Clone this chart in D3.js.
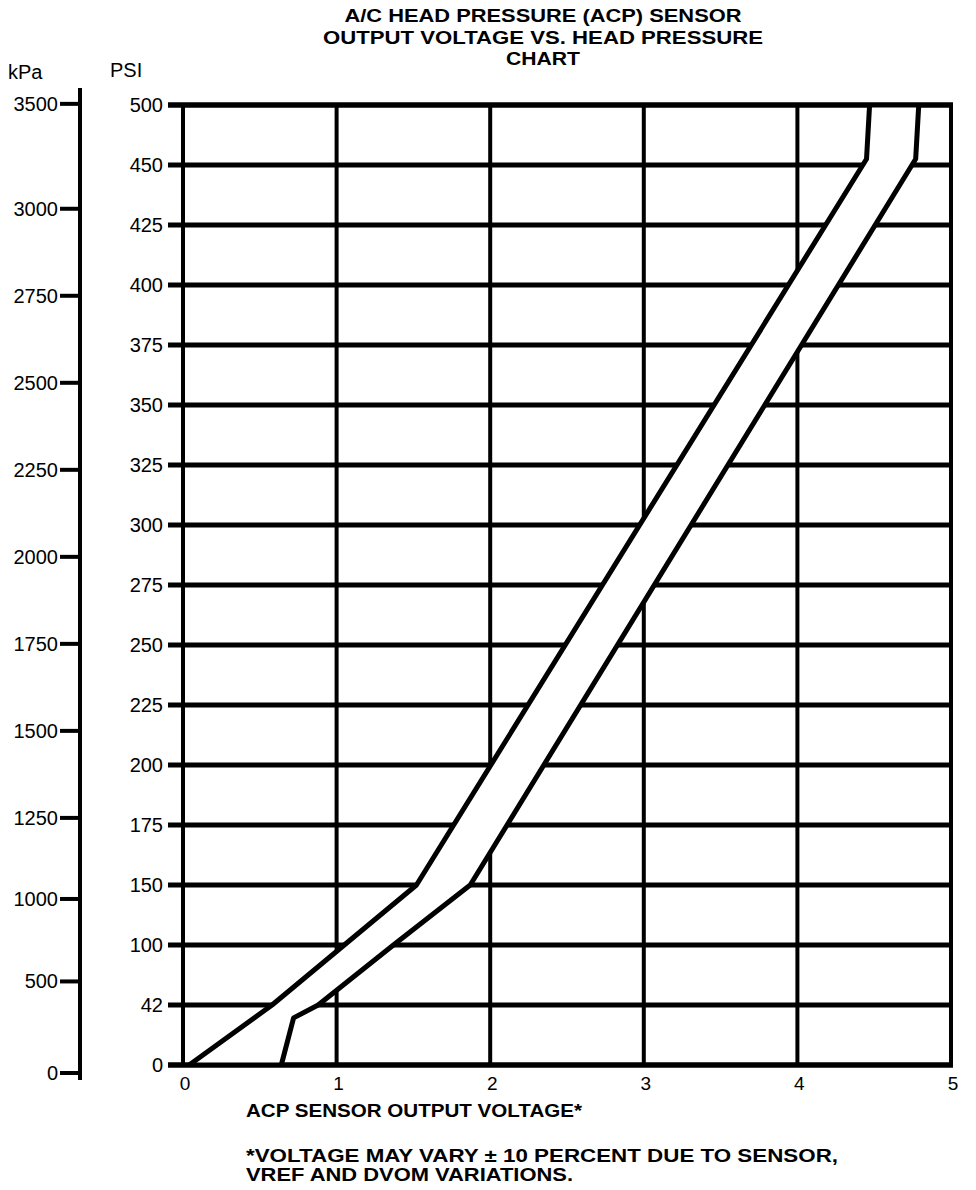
<!DOCTYPE html>
<html>
<head>
<meta charset="utf-8">
<script src="https://cdn.jsdelivr.net/npm/d3@7"></script>
<style>
  html, body { margin: 0; padding: 0; background: #fff; }
  svg { display: block; }
</style>
</head>
<body>
<svg id="chart" width="976" height="1190"></svg>
<script>
// ---------------- DATA ----------------
const titleLines = ["A/C HEAD PRESSURE (ACP) SENSOR", "OUTPUT VOLTAGE VS. HEAD PRESSURE", "CHART"];
const psiTicks = [0, 42, 100, 150, 175, 200, 225, 250, 275, 300, 325, 350, 375, 400, 425, 450, 500];
const kpaTicks = [0, 500, 1000, 1250, 1500, 1750, 2000, 2250, 2500, 2750, 3000, 3500];
const voltTicks = [0, 1, 2, 3, 4, 5];
// Upper (left) boundary of the band: voltage vs PSI
const upperVolts = [0.04, 0.58, 1.05, 1.52, 4.45, 4.47];
const upperPsi   = [0,    42,   100,  150,  455,  500];
// Lower (right) boundary of the band
const lowerVolts = [0.64, 0.72, 0.88, 1.37, 1.87, 4.77, 4.79];
const lowerPsi   = [0,    33,   42,   100,  150,  455,  500];
const xLabel = "ACP SENSOR OUTPUT VOLTAGE*";
const footnote = ["*VOLTAGE MAY VARY \u00B1 10 PERCENT DUE TO SENSOR,", "VREF AND DVOM VARIATIONS."];
const KPA_PER_PSI = 6.895;

// ---------------- LAYOUT ----------------
const svg = d3.select("#chart");
const plotLeft = 183, plotRight = 951, plotTop = 105, plotBottom = 1065;
const gridLeft = 168;
const kpaAxisX = 80, kpaShift = 8;
const ink = "#000";
const font = "'Liberation Sans', Arial, Helvetica, sans-serif";

const x = d3.scaleLinear().domain([0, 5]).range([plotLeft, plotRight]);
const step = (plotBottom - plotTop) / (psiTicks.length - 1);
const y = d3.scaleLinear().domain(psiTicks).range(psiTicks.map((d, i) => plotBottom - i * step));
const yK = d => y(d / KPA_PER_PSI) + kpaShift;

// helper: bold heading text stretched to reference width
function heading(sel, txt, xx, yy, len, anchor) {
  return sel.append("text").attr("x", xx).attr("y", yy)
    .attr("text-anchor", anchor || "start")
    .attr("font-family", font).attr("font-weight", "bold").attr("font-size", 19)
    .attr("textLength", len).attr("lengthAdjust", "spacingAndGlyphs")
    .attr("fill", ink).text(txt);
}

// ---------------- TITLE ----------------
const titleWidths = [397, 440, 74];
titleLines.forEach((t, i) => heading(svg, t, 543, 22 + i * 21.5, titleWidths[i], "middle"));

// Unit labels
svg.append("text").attr("x", 8).attr("y", 79).attr("font-family", font)
  .attr("font-size", 20).attr("fill", ink).text("kPa");
svg.append("text").attr("x", 110).attr("y", 77).attr("font-family", font)
  .attr("font-size", 20).attr("fill", ink).text("PSI");

// ---------------- kPa AXIS ----------------
const kAxis = svg.append("g");
kAxis.append("line").attr("x1", kpaAxisX).attr("x2", kpaAxisX)
  .attr("y1", 88).attr("y2", 1080).attr("stroke", ink).attr("stroke-width", 4);
kAxis.selectAll("line.tick").data(kpaTicks).join("line").attr("class", "tick")
  .attr("x1", 60).attr("x2", kpaAxisX).attr("y1", d => yK(d)).attr("y2", d => yK(d))
  .attr("stroke", ink).attr("stroke-width", 4);
kAxis.selectAll("text").data(kpaTicks).join("text")
  .attr("x", 58).attr("y", d => yK(d) + 7).attr("text-anchor", "end")
  .attr("font-family", font).attr("font-size", 20).attr("fill", ink).text(d => d);

// ---------------- GRID ----------------
const grid = svg.append("g");
grid.selectAll("line.h").data(psiTicks).join("line").attr("class", "h")
  .attr("x1", gridLeft).attr("x2", plotRight + 2)
  .attr("y1", d => y(d)).attr("y2", d => y(d))
  .attr("stroke", ink).attr("stroke-width", 5);
grid.selectAll("line.v").data(voltTicks).join("line").attr("class", "v")
  .attr("x1", d => x(d)).attr("x2", d => x(d))
  .attr("y1", plotTop).attr("y2", plotBottom)
  .attr("stroke", ink).attr("stroke-width", 4);

// PSI labels
svg.append("g").selectAll("text").data(psiTicks).join("text")
  .attr("x", 163).attr("y", d => y(d) + 7).attr("text-anchor", "end")
  .attr("font-family", font).attr("font-size", 20).attr("fill", ink).text(d => d);

// Voltage labels
svg.append("g").selectAll("text").data(voltTicks).join("text")
  .attr("x", d => x(d) + 2).attr("y", 1090).attr("text-anchor", "middle")
  .attr("font-family", font).attr("font-size", 19).attr("fill", ink).text(d => d);

// ---------------- BAND ----------------
const upper = upperVolts.map((v, i) => [v, upperPsi[i]]);
const lower = lowerVolts.map((v, i) => [v, lowerPsi[i]]);
const line = d3.line().x(d => x(d[0])).y(d => y(d[1]));
const band = upper.concat(lower.slice().reverse());
svg.append("path").attr("d", line(band) + "Z").attr("fill", "#fff").attr("stroke", "none");
[upper, lower].forEach(s => {
  svg.append("path").attr("d", line(s)).attr("fill", "none")
    .attr("stroke", ink).attr("stroke-width", 5).attr("stroke-linejoin", "round");
});

// Borders redrawn over band
const border = svg.append("g");
[0, 500].forEach(p => border.append("line")
  .attr("x1", gridLeft).attr("x2", plotRight + 2).attr("y1", y(p)).attr("y2", y(p))
  .attr("stroke", ink).attr("stroke-width", 5));

// ---------------- X LABEL & FOOTNOTE ----------------
heading(svg, xLabel, 246, 1117, 336);
const footWidths = [592, 327];
footnote.forEach((t, i) => heading(svg, t, 246, 1162 + i * 19, footWidths[i]));
</script>
</body>
</html>
